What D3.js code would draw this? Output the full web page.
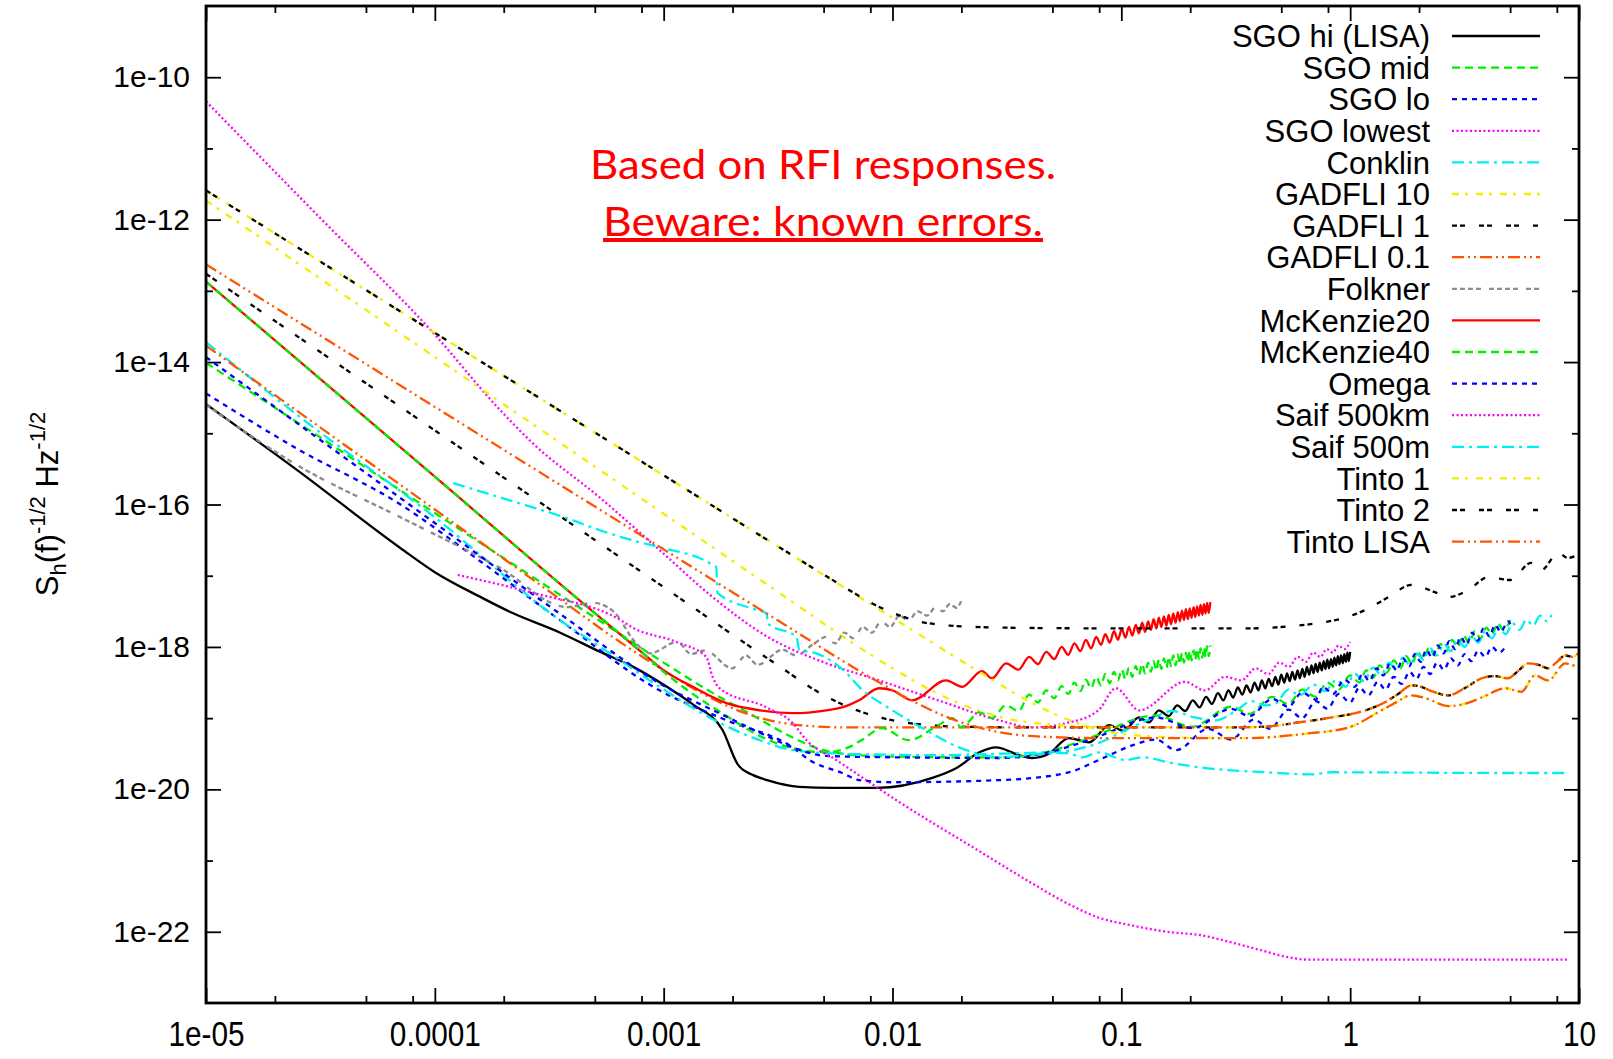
<!DOCTYPE html>
<html>
<head>
<meta charset="utf-8">
<script src="https://cdn.jsdelivr.net/npm/d3@7"></script>
<style>
    body { margin: 0; background: #fff; }
    svg { display: block; }
</style>
</head>
<body>
<svg id="chart"></svg>
<script>
// values are [log10 f (Hz), log10 h]

const xTickLabels = ['1e-05', '0.0001', '0.001', '0.01', '0.1', '1', '10'];
const xMajor = [1e-5, 1e-4, 1e-3, 1e-2, 1e-1, 1, 10];
const yTickLabels = ['1e-10', '1e-12', '1e-14', '1e-16', '1e-18', '1e-20', '1e-22'];
const yMajor = [1e-10, 1e-12, 1e-14, 1e-16, 1e-18, 1e-20, 1e-22];

const seriesNames = ['SGO hi (LISA)', 'SGO mid', 'SGO lo', 'SGO lowest', 'Conklin', 'GADFLI 10', 'GADFLI 1',
    'GADFLI 0.1', 'Folkner', 'McKenzie20', 'McKenzie40', 'Omega', 'Saif 500km', 'Saif 500m', 'Tinto 1', 'Tinto 2', 'Tinto LISA'];

const sgoHi = [[-5, -14.59], [-4.6, -15.52], [-4.151, -16.61], [-4.0, -16.95], [-3.8, -17.30], [-3.67, -17.51], [-3.452, -17.80],
    [-3.277, -18.07], [-3.133, -18.28], [-2.986, -18.56], [-2.871, -18.81], [-2.744, -19.16], [-2.674, -19.66], [-2.609, -19.80],
    [-2.548, -19.87], [-2.407, -19.965], [-2.262, -19.98], [-2.07, -19.98], [-1.826, -19.84], [-1.72, -19.70], [-1.62, -19.48],
    [-1.548, -19.41], [-1.447, -19.52], [-1.39, -19.56], [-1.316, -19.50], [-1.23, -19.28], [-1.14, -19.34], [-1.054, -19.10],
    [-0.99, -19.18], [-0.923, -18.99], [-0.88, -19.06],
    [-0.836, -18.89], [-0.793, -18.97], [-0.756, -18.82], [-0.721, -18.90], [-0.688, -18.75], [-0.658, -18.85], [-0.630, -18.70],
    [-0.604, -18.80], [-0.578, -18.65], [-0.554, -18.75], [-0.532, -18.61], [-0.511, -18.71], [-0.491, -18.57], [-0.471, -18.67],
    [-0.453, -18.54], [-0.435, -18.64], [-0.418, -18.50], [-0.401, -18.61], [-0.386, -18.47], [-0.371, -18.58], [-0.356, -18.45],
    [-0.341, -18.55], [-0.327, -18.42], [-0.314, -18.53], [-0.301, -18.39], [-0.288, -18.50], [-0.276, -18.37], [-0.264, -18.48],
    [-0.253, -18.35], [-0.241, -18.46], [-0.230, -18.33], [-0.220, -18.44], [-0.209, -18.31], [-0.199, -18.42], [-0.189, -18.28],
    [-0.179, -18.39], [-0.169, -18.26], [-0.160, -18.37], [-0.151, -18.24], [-0.142, -18.35], [-0.133, -18.22], [-0.124, -18.33],
    [-0.116, -18.20], [-0.108, -18.31], [-0.100, -18.18], [-0.092, -18.30], [-0.084, -18.17], [-0.076, -18.28], [-0.069, -18.15],
    [-0.061, -18.26], [-0.054, -18.13], [-0.047, -18.24], [-0.040, -18.12], [-0.032, -18.23], [-0.026, -18.10], [-0.019, -18.21],
    [-0.012, -18.08], [-0.006, -18.20], [0, -18.07]];

const sgoMid = [[-5, -14.01], [-4.5, -15.06], [-4, -16.12], [-3.5, -17.17], [-3.2, -17.80], [-3.0, -18.22], [-2.8, -18.62],
    [-2.6, -18.98], [-2.45, -19.25], [-2.3, -19.45], [-2.1, -19.53], [-1.7, -19.55], [-1.534, -19.55], [-1.346, -19.49],
    [-1.2, -19.35], [-1.054, -19.17], [-0.953, -19.03], [-0.85, -18.96], [-0.69, -19.12], [-0.52, -18.84], [-0.44, -18.94],
    [-0.34, -18.70], [-0.27, -18.80], [-0.21, -18.60], [-0.15, -18.70], [-0.10, -18.50], [-0.05, -18.60], [0.0, -18.40],
    [0.04, -18.50], [0.07, -18.33], [0.10, -18.43], [0.13, -18.26], [0.16, -18.36], [0.19, -18.19], [0.22, -18.30],
    [0.245, -18.13], [0.27, -18.24], [0.295, -18.07], [0.32, -18.18], [0.345, -18.01], [0.37, -18.12], [0.395, -17.96],
    [0.42, -18.06], [0.445, -17.90], [0.47, -18.00], [0.495, -17.84], [0.52, -17.94], [0.545, -17.78], [0.57, -17.88],
    [0.595, -17.73], [0.62, -17.82], [0.645, -17.67], [0.67, -17.76], [0.70, -17.62]];

const sgoLo = [[-5, -14.44], [-4.6, -15.22], [-4.15, -16.0], [-3.8, -16.8], [-3.455, -17.62], [-3.018, -18.61], [-2.725, -19.03],
    [-2.437, -19.41], [-2.362, -19.59], [-2.22, -19.77], [-2.146, -19.87], [-2.0, -19.90], [-1.53, -19.87], [-1.24, -19.77],
    [-1.10, -19.59], [-0.95, -19.38], [-0.85, -19.30], [-0.76, -19.45], [-0.62, -19.15], [-0.52, -19.30], [-0.42, -19.02],
    [-0.35, -19.15], [-0.27, -18.88], [-0.21, -19.00], [-0.15, -18.76], [-0.10, -18.87], [-0.05, -18.66], [0.0, -18.78],
    [0.04, -18.57], [0.08, -18.68], [0.12, -18.49], [0.155, -18.60], [0.19, -18.42], [0.225, -18.52], [0.26, -18.35],
    [0.29, -18.45], [0.32, -18.28], [0.35, -18.38], [0.38, -18.22], [0.41, -18.32], [0.44, -18.16], [0.47, -18.26],
    [0.50, -18.10], [0.53, -18.20], [0.56, -18.05], [0.59, -18.14], [0.62, -18.0], [0.65, -18.08], [0.685, -17.97]];

const sgoLowest = [[-5, -10.34], [-4.5, -11.98], [-4.007, -13.59], [-3.716, -14.67], [-3.572, -15.14], [-3.28, -15.90],
    [-3.018, -16.64], [-2.786, -17.30], [-2.55, -17.85], [-2.289, -18.23], [-2.088, -18.44], [-1.8, -18.75], [-1.534, -19.03],
    [-1.39, -19.13], [-1.24, -19.07], [-1.10, -18.89], [-1.024, -18.58], [-0.921, -18.89], [-0.721, -18.49], [-0.635, -18.61],
    [-0.547, -18.42], [-0.475, -18.47], [-0.413, -18.30], [-0.357, -18.38], [-0.310, -18.22], [-0.268, -18.28], [-0.229, -18.14],
    [-0.194, -18.21], [-0.161, -18.08], [-0.131, -18.14], [-0.102, -18.03], [-0.076, -18.08], [-0.051, -17.98], [-0.025, -18.03],
    [0, -17.93]];

const conklin = [[-5, -13.72], [-4.59, -14.77], [-4.0, -16.18], [-3.455, -17.62], [-3.235, -18.09], [-3.018, -18.56],
    [-2.80, -18.99], [-2.58, -19.31], [-2.437, -19.45], [-2.29, -19.49], [-1.8, -19.52], [-1.534, -19.50], [-1.24, -19.46],
    [-1.1, -19.35], [-0.95, -19.12], [-0.85, -18.98], [-0.78, -18.90], [-0.68, -18.99], [-0.587, -19.03], [-0.5, -18.90],
    [-0.43, -18.76], [-0.37, -18.82], [-0.327, -18.80], [-0.27, -18.60], [-0.22, -18.68], [-0.16, -18.53], [-0.11, -18.62],
    [-0.06, -18.46], [-0.02, -18.56], [0.02, -18.38], [0.06, -18.48], [0.10, -18.29], [0.135, -18.39], [0.17, -18.22],
    [0.2, -18.32], [0.23, -18.15], [0.26, -18.25], [0.29, -18.09], [0.32, -18.18], [0.35, -18.02], [0.38, -18.12],
    [0.41, -17.96], [0.44, -18.06], [0.47, -17.90], [0.50, -18.0], [0.53, -17.84], [0.56, -17.94], [0.59, -17.78],
    [0.62, -17.88], [0.65, -17.72], [0.68, -17.82], [0.71, -17.67], [0.74, -17.76], [0.77, -17.62], [0.80, -17.70],
    [0.83, -17.56], [0.86, -17.64], [0.88, -17.55]];

// high frequency part shared by the three GADFLI curves
const gadfliTail = [[-0.5, -19.13], [-0.37, -19.12], [-0.225, -19.06], [-0.08, -18.99], [0.067, -18.89], [0.15, -18.78],
    [0.21, -18.66], [0.267, -18.54], [0.31, -18.56], [0.355, -18.62], [0.43, -18.68], [0.5, -18.58], [0.575, -18.44],
    [0.63, -18.41], [0.69, -18.44], [0.73, -18.35], [0.778, -18.23], [0.82, -18.25], [0.865, -18.30], [0.90, -18.22],
    [0.94, -18.12], [0.97, -18.14], [1.0, -18.08]];
const gadfli10 = [[-5, -11.73], [-4, -13.93], [-3, -16.13], [-2.5, -17.23], [-2.2, -17.89], [-2.0, -18.30], [-1.8, -18.66],
    [-1.6, -18.92], [-1.4, -19.06], [-1.1, -19.12], [-0.8, -19.13]];
const gadfli1 = [[-5, -12.76], [-4, -14.96], [-3, -17.16], [-2.5, -18.26], [-2.3, -18.68], [-2.1, -18.95], [-1.9, -19.08],
    [-1.7, -19.12], [-1.4, -19.13]];
const gadfli01 = [[-5, -13.77], [-4, -16.07], [-3.5, -17.22], [-3.2, -17.91], [-3.0, -18.33], [-2.85, -18.62], [-2.7, -18.86],
    [-2.55, -19.02], [-2.4, -19.10], [-2.2, -19.13]];

const folkner = [[-5, -14.60], [-4.6, -15.45], [-4.15, -16.18], [-3.72, -16.88], [-3.42, -17.44], [-3.31, -17.38],
    [-3.22, -17.50], [-3.12, -17.95], [-3.06, -18.09], [-2.94, -17.93], [-2.88, -18.10], [-2.82, -18.05], [-2.70, -18.30],
    [-2.64, -18.12], [-2.59, -18.25], [-2.48, -18.04], [-2.42, -18.12], [-2.35, -17.97], [-2.29, -17.86], [-2.25, -17.95],
    [-2.21, -17.80], [-2.17, -17.88], [-2.13, -17.72], [-2.09, -17.80], [-2.05, -17.64], [-2.01, -17.72], [-1.97, -17.56],
    [-1.93, -17.63], [-1.89, -17.50], [-1.85, -17.56], [-1.81, -17.44], [-1.78, -17.50], [-1.75, -17.40], [-1.72, -17.45],
    [-1.70, -17.36]];

const mckenzie20 = [[-5, -12.87], [-4, -15.61], [-3.37, -17.34], [-3.09, -18.09], [-3.0, -18.33], [-2.873, -18.56],
    [-2.725, -18.79], [-2.581, -18.89], [-2.437, -18.93], [-2.289, -18.89], [-2.22, -18.85], [-2.146, -18.75], [-2.058, -18.58],
    [-2.0, -18.61], [-1.914, -18.75], [-1.766, -18.47], [-1.696, -18.56], [-1.609, -18.34], [-1.565, -18.44], [-1.504, -18.23],
    [-1.449, -18.32], [-1.403, -18.14], [-1.364, -18.24], [-1.328, -18.07], [-1.293, -18.17], [-1.261, -18.00], [-1.232, -18.11],
    [-1.205, -17.95], [-1.179, -18.06], [-1.155, -17.90], [-1.132, -18.02], [-1.110, -17.86], [-1.089, -17.97], [-1.070, -17.82],
    [-1.051, -17.94], [-1.032, -17.78], [-1.015, -17.90], [-0.998, -17.75], [-0.982, -17.87], [-0.967, -17.72], [-0.952, -17.84],
    [-0.937, -17.69], [-0.923, -17.81], [-0.909, -17.66], [-0.896, -17.79], [-0.883, -17.64], [-0.871, -17.76], [-0.859, -17.61],
    [-0.847, -17.74], [-0.836, -17.59], [-0.825, -17.72], [-0.814, -17.57], [-0.803, -17.70], [-0.793, -17.55], [-0.783, -17.68],
    [-0.773, -17.53], [-0.763, -17.66], [-0.753, -17.51], [-0.744, -17.64], [-0.735, -17.49], [-0.726, -17.62], [-0.718, -17.47],
    [-0.709, -17.61], [-0.701, -17.46], [-0.693, -17.59], [-0.684, -17.44], [-0.677, -17.58], [-0.669, -17.43], [-0.661, -17.56],
    [-0.654, -17.41], [-0.646, -17.55], [-0.639, -17.40], [-0.632, -17.53], [-0.625, -17.38], [-0.618, -17.52], [-0.611, -17.37]];

const mckenzie40 = [[-5, -12.87], [-4, -15.61], [-3.37, -17.34], [-3.09, -18.09], [-3.0, -18.35], [-2.873, -18.66],
    [-2.72, -18.98], [-2.58, -19.25], [-2.44, -19.42], [-2.29, -19.48], [-2.2, -19.42], [-2.13, -19.30], [-2.046, -19.14],
    [-1.93, -19.31], [-1.80, -19.10], [-1.737, -19.00], [-1.70, -19.13], [-1.62, -18.92], [-1.565, -19.00], [-1.504, -18.82],
    [-1.449, -18.90], [-1.403, -18.67], [-1.364, -18.78], [-1.328, -18.61], [-1.293, -18.72], [-1.261, -18.55], [-1.232, -18.66],
    [-1.205, -18.50], [-1.179, -18.62], [-1.155, -18.46], [-1.132, -18.58], [-1.110, -18.42], [-1.089, -18.54], [-1.070, -18.38],
    [-1.051, -18.51], [-1.032, -18.35], [-1.015, -18.47], [-0.998, -18.32], [-0.982, -18.45], [-0.967, -18.29], [-0.952, -18.42],
    [-0.937, -18.27], [-0.923, -18.39], [-0.909, -18.24], [-0.896, -18.37], [-0.883, -18.22], [-0.871, -18.35], [-0.859, -18.20],
    [-0.847, -18.33], [-0.836, -18.18], [-0.825, -18.31], [-0.814, -18.16], [-0.803, -18.29], [-0.793, -18.14], [-0.783, -18.27],
    [-0.773, -18.12], [-0.763, -18.26], [-0.753, -18.11], [-0.744, -18.24], [-0.735, -18.09], [-0.726, -18.22], [-0.718, -18.08],
    [-0.709, -18.21], [-0.701, -18.06], [-0.693, -18.19], [-0.684, -18.05], [-0.677, -18.18], [-0.669, -18.03], [-0.661, -18.17],
    [-0.654, -18.02], [-0.646, -18.15], [-0.639, -18.01], [-0.632, -18.14], [-0.625, -17.99], [-0.618, -18.13], [-0.611, -17.98]];

const omega = [[-5, -13.93], [-4, -16.26], [-3.455, -17.53], [-3.018, -18.51], [-2.725, -18.98], [-2.55, -19.25],
    [-2.437, -19.41], [-2.29, -19.53], [-2.0, -19.55], [-1.534, -19.56], [-1.346, -19.50], [-1.2, -19.37], [-1.054, -19.20],
    [-0.953, -19.06], [-0.85, -18.99], [-0.69, -19.14], [-0.52, -18.87], [-0.44, -18.97], [-0.34, -18.73], [-0.27, -18.84],
    [-0.21, -18.64], [-0.15, -18.74], [-0.12, -18.56], [-0.075, -18.66], [-0.025, -18.46], [0.02, -18.56], [0.055, -18.38],
    [0.085, -18.48], [0.115, -18.30], [0.145, -18.40], [0.175, -18.23], [0.205, -18.33], [0.23, -18.16], [0.258, -18.27],
    [0.283, -18.10], [0.308, -18.21], [0.333, -18.04], [0.358, -18.15], [0.383, -17.98], [0.408, -18.09], [0.433, -17.92],
    [0.458, -18.03], [0.483, -17.86], [0.508, -17.97], [0.533, -17.80], [0.558, -17.91], [0.583, -17.74], [0.608, -17.85],
    [0.633, -17.69], [0.658, -17.79], [0.69, -17.64], [0.70, -17.68]];

const saif500km = [[-3.9, -16.99], [-3.573, -17.24], [-3.19, -17.62], [-3.135, -17.73], [-2.945, -17.93], [-2.814, -18.14],
    [-2.786, -18.42], [-2.756, -18.58], [-2.55, -18.85], [-2.436, -19.07], [-2.376, -19.31], [-2.245, -19.59], [-2.115, -19.87],
    [-1.984, -20.15], [-1.63, -20.85], [-1.4, -21.3], [-1.225, -21.62], [-1.1, -21.8], [-0.955, -21.91], [-0.8, -22.0],
    [-0.65, -22.05], [-0.506, -22.16], [-0.4, -22.25], [-0.281, -22.35], [-0.19, -22.39], [0.955, -22.39]];

const saif500m = [[-3.92, -15.70], [-3.716, -15.90], [-3.572, -16.04], [-3.424, -16.19], [-3.28, -16.36], [-3.105, -16.53],
    [-3.018, -16.60], [-2.80, -16.82], [-2.77, -16.88], [-2.765, -17.24], [-2.594, -17.48], [-2.55, -17.53], [-2.545, -17.67],
    [-2.42, -17.86], [-2.407, -18.04], [-2.333, -18.09], [-2.2, -18.37], [-2.146, -18.56], [-2.0, -18.89], [-1.853, -19.17],
    [-1.71, -19.41], [-1.635, -19.49], [-1.534, -19.55], [-1.346, -19.50], [-1.24, -19.49], [-1.17, -19.55], [-1.098, -19.48],
    [-0.98, -19.59], [-0.91, -19.55], [-0.78, -19.63], [-0.66, -19.69], [-0.37, -19.76], [-0.17, -19.79], [-0.08, -19.76],
    [0.647, -19.77], [0.94, -19.77]];

// high frequency part shared by Tinto 1 and Tinto LISA
const tintoTail = [[-0.6, -19.28], [-0.444, -19.28], [-0.2, -19.22], [-0.007, -19.13], [0.137, -18.89], [0.2, -18.78],
    [0.267, -18.68], [0.33, -18.72], [0.43, -18.83], [0.50, -18.80], [0.575, -18.71], [0.678, -18.58], [0.748, -18.63],
    [0.807, -18.40], [0.865, -18.47], [0.94, -18.23], [0.975, -18.26], [1.0, -18.25]];
const tinto1 = [[-5, -11.59], [-4, -13.59], [-3, -15.59], [-2, -17.59], [-1.6, -18.39], [-1.4, -18.77], [-1.25, -19.0],
    [-1.1, -19.16], [-0.9, -19.25]];
const tinto2 = [[-5, -11.59], [-4, -13.59], [-3, -15.59], [-2.5, -16.59], [-2.2, -17.18], [-2.1, -17.37], [-2.0, -17.52],
    [-1.9, -17.63], [-1.75, -17.70], [-1.5, -17.73], [-1.0, -17.74], [-0.444, -17.74], [-0.30, -17.72], [-0.15, -17.67],
    [-0.035, -17.60], [0.067, -17.48], [0.168, -17.30], [0.267, -17.13], [0.37, -17.23], [0.43, -17.30], [0.516, -17.20],
    [0.604, -17.02], [0.70, -17.06], [0.79, -16.82], [0.835, -16.92], [0.91, -16.68], [0.95, -16.75], [1.0, -16.70]];
const tintoLisa = [[-5, -12.63], [-4, -14.63], [-3, -16.63], [-2.5, -17.63], [-2.09, -18.44], [-1.9, -18.78], [-1.75, -19.0],
    [-1.6, -19.15], [-1.4, -19.25], [-1.1, -19.28]];

const seriesData = [sgoHi, sgoMid, sgoLo, sgoLowest, conklin, gadfli10.concat(gadfliTail), gadfli1.concat(gadfliTail),
    gadfli01.concat(gadfliTail), folkner, mckenzie20, mckenzie40, omega, saif500km, saif500m,
    tinto1.concat(tintoTail), tinto2, tintoLisa.concat(tintoTail)];

// gnuplot line types, repeating after the ninth
const lineColors = ['#000000', '#00ee00', '#0000ff', '#ff00ff', '#00f0f0', '#f2ee00', '#000000', '#ff5500', '#8c8c8c',
    '#ff0000', '#00ee00', '#0000ff', '#ff00ff', '#00f0f0', '#f2ee00', '#000000', '#ff5500'];
const lineDashes = ['none', '8,5', '5,5', '2,2.5', '12,5,3,5', '7,6,3,8', '5,3,5,14', '12,4,2,4,2,4', '5,3,5,3,5,3,5,8',
    'none', '8,5', '5,5', '2,2.5', '12,5,3,5', '7,6,3,8', '5,3,5,14', '12,4,2,4,2,4'];

function drawChart() {
    const width = 1613;
    const height = 1059;
    const plot = { left: 206, right: 1579, top: 6, bottom: 1003 };
    const font = '"Liberation Sans", Arial, Helvetica, sans-serif';

    const svg = d3.select('#chart').attr('width', width).attr('height', height);

    const x = d3.scaleLog().domain([1e-5, 10]).range([plot.left, plot.right]);
    const y = d3.scaleLog().domain([1e-9, 1e-23]).range([plot.top, plot.bottom]);

    var xMinor = [];
    xMajor.slice(0, -1).forEach(function (d) {
        [2, 5, 8].forEach(function (m) { xMinor.push(d * m); });
    });
    const yMinor = [1e-11, 1e-13, 1e-15, 1e-17, 1e-19, 1e-21];

    function styleAxis(g) {
        g.select('.domain').remove();
        g.selectAll('.tick line').attr('stroke', '#000').attr('stroke-width', 1.8);
        g.selectAll('text').attr('fill', '#000').style('font-family', font);
    }

    // bottom + top
    svg.append('g').attr('transform', 'translate(0,' + plot.bottom + ')')
        .call(d3.axisBottom(x).tickValues(xMajor).tickSize(-15).tickPadding(18)
            .tickFormat(function (d, i) { return xTickLabels[i]; }))
        .call(styleAxis)
        .selectAll('text').style('font-size', '35px').attr('transform', 'scale(0.85,1)');
    svg.append('g').attr('transform', 'translate(0,' + plot.bottom + ')')
        .call(d3.axisBottom(x).tickValues(xMinor).tickSize(-7).tickFormat(''))
        .call(styleAxis);
    svg.append('g').attr('transform', 'translate(0,' + plot.top + ')')
        .call(d3.axisTop(x).tickValues(xMajor).tickSize(-15).tickFormat(''))
        .call(styleAxis);
    svg.append('g').attr('transform', 'translate(0,' + plot.top + ')')
        .call(d3.axisTop(x).tickValues(xMinor).tickSize(-7).tickFormat(''))
        .call(styleAxis);

    // left + right
    svg.append('g').attr('transform', 'translate(' + plot.left + ',0)')
        .call(d3.axisLeft(y).tickValues(yMajor).tickSize(-15).tickPadding(16)
            .tickFormat(function (d, i) { return yTickLabels[i]; }))
        .call(styleAxis)
        .selectAll('text').style('font-size', '30px');
    svg.append('g').attr('transform', 'translate(' + plot.left + ',0)')
        .call(d3.axisLeft(y).tickValues(yMinor).tickSize(-7).tickFormat(''))
        .call(styleAxis);
    svg.append('g').attr('transform', 'translate(' + plot.right + ',0)')
        .call(d3.axisRight(y).tickValues(yMajor).tickSize(-15).tickFormat(''))
        .call(styleAxis);
    svg.append('g').attr('transform', 'translate(' + plot.right + ',0)')
        .call(d3.axisRight(y).tickValues(yMinor).tickSize(-7).tickFormat(''))
        .call(styleAxis);

    svg.append('clipPath').attr('id', 'plot-clip')
        .append('rect')
        .attr('x', plot.left).attr('y', plot.top)
        .attr('width', plot.right - plot.left).attr('height', plot.bottom - plot.top);

    const line = d3.line()
        .x(function (d) { return x(Math.pow(10, d[0])); })
        .y(function (d) { return y(Math.pow(10, d[1])); })
        .curve(d3.curveMonotoneX);

    svg.append('g').attr('clip-path', 'url(#plot-clip)')
        .selectAll('path')
        .data(seriesData)
        .enter()
        .append('path')
        .attr('d', line)
        .attr('fill', 'none')
        .attr('stroke', function (d, i) { return lineColors[i]; })
        .attr('stroke-width', 2.3)
        .attr('stroke-dasharray', function (d, i) { return lineDashes[i]; });

    // legend, top right
    var legend = svg.append('g');
    seriesNames.forEach(function (name, i) {
        const rowY = 36 + 31.6 * i;
        legend.append('text')
            .attr('x', 1430).attr('y', rowY).attr('dy', '0.36em')
            .attr('text-anchor', 'end')
            .style('font-family', font).style('font-size', '31px')
            .text(name);
        legend.append('line')
            .attr('x1', 1452).attr('x2', 1540).attr('y1', rowY).attr('y2', rowY)
            .attr('stroke', lineColors[i]).attr('stroke-width', 2.3)
            .attr('stroke-dasharray', lineDashes[i]);
    });

    // frame
    svg.append('rect')
        .attr('x', plot.left).attr('y', plot.top)
        .attr('width', plot.right - plot.left).attr('height', plot.bottom - plot.top)
        .attr('fill', 'none').attr('stroke', '#000').attr('stroke-width', 2.8);

    // y axis title
    var title = svg.append('text')
        .attr('transform', 'translate(58,504) rotate(-90)')
        .attr('text-anchor', 'middle')
        .style('font-family', font).style('font-size', '31px');
    title.append('tspan').text('S');
    title.append('tspan').attr('dy', 8).style('font-size', '22px').text('h');
    title.append('tspan').attr('dy', -8).text('(f)');
    title.append('tspan').attr('dy', -13).style('font-size', '22px').text('-1/2');
    title.append('tspan').attr('dy', 13).text(' Hz');
    title.append('tspan').attr('dy', -13).style('font-size', '22px').text('-1/2');

    // red note
    svg.append('text')
        .attr('x', 823).attr('y', 179)
        .attr('text-anchor', 'middle')
        .attr('textLength', 466).attr('lengthAdjust', 'spacingAndGlyphs')
        .style('font-family', 'Lato, "Open Sans", sans-serif').style('font-size', '40px')
        .attr('fill', '#ff0000')
        .text('Based on RFI responses.');
    svg.append('text')
        .attr('x', 823).attr('y', 236)
        .attr('text-anchor', 'middle')
        .attr('textLength', 440).attr('lengthAdjust', 'spacingAndGlyphs')
        .style('font-family', 'Lato, "Open Sans", sans-serif').style('font-size', '40px')
        .style('text-decoration', 'underline')
        .attr('fill', '#ff0000')
        .text('Beware: known errors.');
}

drawChart();
</script>
</body>
</html>
